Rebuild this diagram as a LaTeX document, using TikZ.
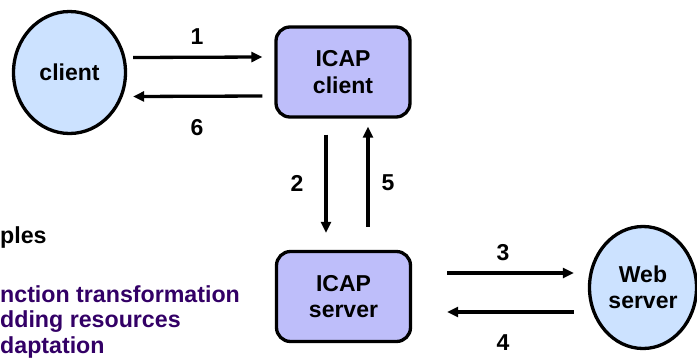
\documentclass[tikz,border=0pt]{standalone}
\usepackage{fontspec}
\setmainfont{Liberation Sans}
\usetikzlibrary{arrows.meta,shapes.geometric}
\definecolor{hostblue}{RGB}{204,226,255}
\definecolor{icapblue}{RGB}{190,190,250}
\definecolor{notepurple}{RGB}{51,0,102}
\tikzset{
  host/.style={ellipse,draw=black,line width=3.3pt,fill=hostblue,align=center,
    font=\fontsize{23}{26.5}\selectfont\bfseries,inner sep=0pt},
  icapbox/.style={rectangle,rounded corners=14pt,draw=black,line width=3.3pt,
    fill=icapblue,align=center,font=\fontsize{23}{26.5}\selectfont\bfseries,
    minimum width=134pt,minimum height=90pt},
  msg/.style={line width=3.3pt,-{Triangle[length=11pt,width=10pt]}},
  num/.style={font=\fontsize{23}{26}\selectfont\bfseries,inner sep=0pt},
  note/.style={anchor=base west,inner sep=0pt,
    font=\fontsize{23.2}{26}\selectfont\bfseries}
}
\begin{document}
\begin{tikzpicture}[x=1pt,y=-1pt]
  \useasboundingbox (0,0) rectangle (697,357);
  % hosts and ICAP boxes
  \node[host,minimum width=112pt,minimum height=122pt] (client) at (69.5,72.5) {client};
  \node[icapbox] (icapc) at (343,72) {ICAP\\client};
  \node[icapbox] (icaps) at (343.5,296.5) {ICAP\\server};
  \node[host,minimum width=107pt,minimum height=122pt] (web) at (643,287.5) {Web\\server};
  % request and response, client side
  \draw[msg] ([xshift=6pt,yshift=15pt]client.east) -- ([xshift=-12pt,yshift=15pt]icapc.west);
  \draw[msg] ([xshift=-12pt,yshift=-24pt]icapc.west) -- ([xshift=6pt,yshift=-24pt]client.east);
  \node[num] (n1) at (197,37) {1};
  \node[num] (n6) at (197,128) {6};
  % ICAP client <-> ICAP server
  \draw[msg] ([xshift=-17pt,yshift=-16pt]icapc.south) -- ([xshift=-17.5pt,yshift=17pt]icaps.north);
  \draw[msg] ([xshift=24.5pt,yshift=23pt]icaps.north) -- ([xshift=25pt,yshift=-8pt]icapc.south);
  \node[num] (n2) at (297,183) {2};
  \node[num] (n5) at (388,183) {5};
  % ICAP server <-> web server
  \draw[msg] ([xshift=35pt,yshift=23.5pt]icaps.east) -- ([xshift=-14pt,yshift=14.5pt]web.west);
  \draw[msg] ([xshift=-14pt,yshift=-24.5pt]web.west) -- ([xshift=35pt,yshift=-15.5pt]icaps.east);
  \node[num] (n3) at (503,253) {3};
  \node[num] (n4) at (503,343) {4};
  % notes at the left edge
  \node[note] (ex) at (0,243) {ples};
  \node[note,text=notepurple] (t1) at (0,302) {nction transformation};
  \node[note,text=notepurple] (t2) at (0,327.5) {dding resources};
  \node[note,text=notepurple] (t3) at (0,353) {daptation};
\end{tikzpicture}
\end{document}
